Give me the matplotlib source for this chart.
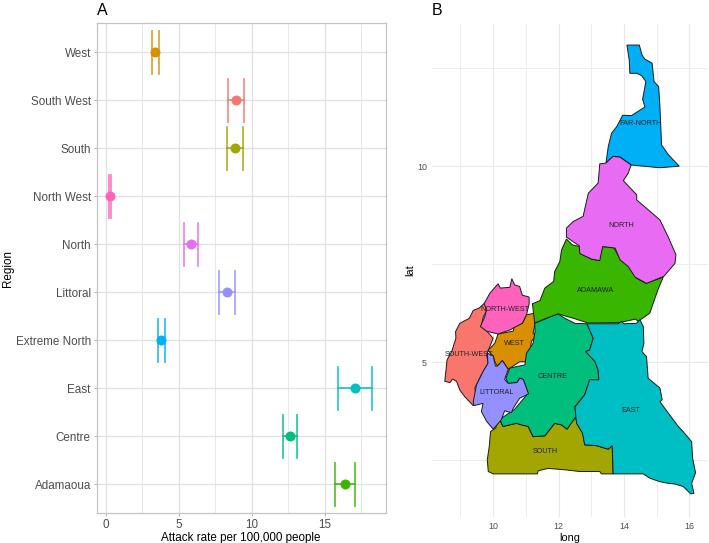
import matplotlib
matplotlib.use("Agg")
import matplotlib.pyplot as plt

plt.rcParams['font.family'] = ['Liberation Sans', 'DejaVu Sans']

# panel A, bottom to top
regions = ["Adamaoua", "Centre", "East", "Extreme North", "Littoral", "North",
           "North West", "South", "South West", "West"]
rate = [16.41, 12.63, 17.12, 3.78, 8.31, 5.81, 0.30, 8.88, 8.95, 3.39]
rate_lo = [15.72, 12.13, 15.93, 3.55, 7.78, 5.35, 0.23, 8.33, 8.40, 3.16]
rate_hi = [17.09, 13.11, 18.28, 4.03, 8.86, 6.32, 0.37, 9.40, 9.50, 3.64]
region_colors = ["#39B600", "#00BF7D", "#00BFC4", "#00B0F6", "#9590FF", "#E76BF3",
                 "#FF62BC", "#A3A500", "#F8766D", "#D89000"]

# panel B, outlines in long/lat
far_north = [(14.09,13.09),(14.47,13.09),(14.55,12.84),(14.64,12.73),(14.86,12.63),(14.92,12.16),
             (15.06,12.03),(15.10,11.52),(15.15,10.54),(15.36,10.29),(15.69,10.00),(15.10,9.96),
             (14.22,10.03),(13.88,10.23),(13.67,10.25),(13.57,10.18),(13.45,10.08),(13.52,10.50),
             (13.62,10.84),(13.78,11.01),(13.96,11.30),(14.23,11.29),(14.64,11.51),(14.57,11.71),
             (14.67,12.16),(14.54,12.31),(14.39,12.37),(14.18,12.37),(14.16,12.71)]
north = [(13.45,10.08),(13.57,10.18),(13.67,10.25),(13.88,10.23),(14.22,10.03),(14.13,9.82),
         (13.98,9.63),(14.39,9.27),(14.39,9.14),(15.10,8.63),(15.35,8.20),(15.59,7.74),(15.56,7.52),
         (15.22,7.19),(14.69,7.01),(14.34,7.17),(14.13,7.44),(13.88,7.61),(13.73,7.91),(13.35,7.95),
         (13.26,7.59),(13.01,7.63),(12.65,7.77),(12.63,7.97),(12.24,8.19),(12.24,8.42),(12.45,8.59),
         (12.75,8.72),(12.91,9.31),(13.21,9.57),(13.26,10.06)]
adamawa = [(12.24,8.14),(12.43,7.99),(12.65,7.95),(12.70,7.76),(13.01,7.63),(13.24,7.59),(13.34,7.95),
           (13.69,7.92),(13.85,7.68),(14.16,7.53),(14.38,7.14),(14.67,7.01),(15.20,7.17),(15.04,6.85),
           (14.79,6.25),(14.43,6.04),(14.36,6.10),(13.87,6.01),(12.90,6.00),(12.45,6.12),(11.99,6.23),
           (11.73,6.15),(11.27,6.00),(11.20,6.49),(11.43,6.57),(11.58,6.89),(11.85,7.06),(11.88,7.31),
           (12.04,7.57),(12.09,7.86)]
north_west = [(9.72,6.49),(9.90,6.76),(10.15,7.00),(10.22,6.89),(10.51,6.91),(10.57,7.13),(10.66,6.97),
              (10.81,6.93),(10.89,6.71),(11.10,6.66),(11.10,6.49),(11.02,6.21),(10.89,5.99),(10.61,5.87),
              (10.51,5.82),(10.15,5.72),(9.80,5.79),(9.61,5.91),(9.74,6.15),(9.80,6.34)]
south_west = [(9.73,6.50),(9.57,6.38),(9.39,6.32),(9.27,6.12),(8.98,5.99),(8.85,5.78),(8.86,5.61),
              (8.73,5.27),(8.59,5.06),(8.52,4.51),(8.68,4.48),(8.76,4.57),(8.88,4.51),(8.98,4.29),
              (9.13,4.12),(9.39,3.89),(9.49,4.08),(9.44,4.34),(9.64,4.68),(9.85,4.97),(9.80,5.19),
              (10.00,5.61),(9.64,5.95),(9.70,6.16),(9.85,6.38)]
west = [(11.28,6.25),(11.28,5.98),(11.22,5.74),(11.30,5.67),(11.17,5.53),(11.12,5.23),(10.97,5.01),
        (10.81,5.01),(10.46,4.82),(10.28,5.04),(10.13,4.90),(10.05,5.01),(10.00,5.16),(9.84,5.30),
        (10.05,5.48),(10.15,5.72),(10.61,5.79),(10.66,5.95),(10.89,5.99),(11.02,6.21)]
littoral = [(9.82,5.23),(10.00,5.16),(10.07,4.90),(10.13,4.90),(10.28,5.04),(10.46,4.82),(10.35,4.56),
            (10.46,4.46),(10.73,4.48),(10.81,4.59),(10.92,4.56),(11.08,4.19),(10.81,4.08),(10.61,3.82),(10.56,3.71),
            (10.35,3.76),(10.25,3.53),(10.00,3.29),(9.80,3.49),(9.64,3.74),(9.69,3.95),(9.41,3.89),
            (9.39,3.99),(9.44,4.21),(9.49,4.42),(9.69,4.76),(9.84,4.97)]
centre = [(11.27,5.99),(11.73,6.15),(11.99,6.23),(12.19,6.12),(12.50,5.99),(12.87,5.98),(13.06,5.61),
          (12.95,5.31),(12.83,5.27),(13.11,5.02),(13.21,4.80),(13.23,4.55),(12.95,4.55),(12.80,4.17),
          (12.50,3.87),(12.55,3.63),(12.26,3.29),(12.09,3.40),(11.88,3.44),(11.58,3.12),(11.22,3.10),
          (11.07,3.36),(10.86,3.40),(10.71,3.44),(10.30,3.36),(10.20,3.54),(10.66,3.80),(11.07,4.21),
          (10.92,4.56),(10.81,4.59),(10.73,4.48),(10.46,4.45),(10.39,4.59),(10.51,4.85),(10.97,4.93),
          (11.02,5.23),(11.22,5.48),(11.28,5.78)]
east = [(12.87,5.98),(13.82,5.98),(13.92,6.04),(14.00,5.98),(14.38,5.99),(14.49,6.08),(14.59,5.91),
        (14.61,5.48),(14.55,5.27),(14.69,5.14),(14.74,4.59),(15.10,4.34),(15.17,4.04),(15.10,3.99),
        (15.66,3.36),(15.81,3.23),(16.07,2.97),(16.10,2.55),(16.19,2.18),(16.07,1.91),(16.14,1.65),
        (16.04,1.64),(15.81,1.83),(15.56,1.89),(15.35,1.91),(15.10,1.95),(14.79,2.04),(14.59,2.15),
        (13.67,2.15),(13.64,2.87),(13.52,2.78),(13.16,2.87),(12.80,2.89),(12.73,3.19),(12.55,3.44),
        (12.50,3.85),(12.80,4.17),(12.95,4.55),(13.23,4.55),(13.21,4.80),(13.11,5.02),(12.83,5.27),
        (12.95,5.31),(13.06,5.61)]
south = [(9.92,3.23),(10.08,3.32),(10.12,3.54),(10.20,3.54),(10.30,3.36),(10.71,3.44),(11.07,3.36),
         (11.22,3.10),(11.58,3.12),(11.88,3.44),(12.09,3.40),(12.26,3.29),(12.50,3.65),(12.57,3.44),
         (12.75,3.19),(12.80,2.89),(13.16,2.87),(13.52,2.78),(13.64,2.87),(13.67,2.15),(13.31,2.15),
         (13.26,2.21),(12.65,2.21),(12.24,2.25),(11.68,2.29),(11.38,2.23),(11.35,2.15),(10.00,2.15),
         (9.85,2.21),(9.82,2.51),(9.88,2.85)]

map_shapes = [south_west, west, south, adamawa, centre, east, far_north, littoral, north, north_west]
map_colors = ["#F8766D", "#D89000", "#A3A500", "#39B600", "#00BF7D", "#00BFC4", "#00B0F6",
              "#9590FF", "#E76BF3", "#FF62BC"]
map_names = ["SOUTH-WEST", "WEST", "SOUTH", "ADAMAWA", "CENTRE", "EAST", "FAR-NORTH",
             "LITTORAL", "NORTH", "NORTH-WEST"]
name_long = [9.27, 10.64, 11.58, 13.13, 11.82, 14.22, 14.51, 10.10, 13.93, 10.37]
name_lat = [5.20, 5.48, 2.73, 6.84, 4.64, 3.77, 11.08, 4.23, 8.48, 6.35]

W, H = 709, 543
fig = plt.figure(figsize=(W / 100, H / 100), dpi=100)

# panel A
ax = fig.add_axes([96.7 / W, 1 - 513.3 / H, 289 / W, 490 / H])
ypos = list(range(1, len(regions) + 1))
ax.set_axisbelow(True)
ax.grid(True, which="major", color="#E0E0E0", lw=0.9)
ax.grid(True, which="minor", axis="x", color="#E8E8E8", lw=0.7)
for i in range(len(regions)):
    c = region_colors[i]
    ax.plot([rate_lo[i], rate_hi[i]], [ypos[i], ypos[i]], color=c, lw=1.1)
    ax.plot([rate_lo[i], rate_lo[i]], [ypos[i] - 0.45, ypos[i] + 0.45], color=c, lw=1.3, alpha=0.8)
    ax.plot([rate_hi[i], rate_hi[i]], [ypos[i] - 0.45, ypos[i] + 0.45], color=c, lw=1.3, alpha=0.8)
    ax.plot(rate[i], ypos[i], "o", color=c, ms=7.2, mew=0)
ax.set_xlim(-0.64, 19.2)
ax.set_ylim(0.4, 10.6)
ax.set_xticks([0, 5, 10, 15])
ax.set_xticks([2.5, 7.5, 12.5, 17.5], minor=True)
ax.set_yticks(ypos)
ax.set_yticklabels(regions)
ax.tick_params(axis="both", which="major", labelsize=8.4, labelcolor="#4D4D4D",
               color="#B3B3B3", length=2.2, width=0.7, pad=2)
ax.tick_params(axis="x", which="minor", length=0)
for s in ax.spines.values():
    s.set_color("#C4C4C4")
    s.set_linewidth(0.9)
ax.set_xlabel("Attack rate per 100,000 people", fontsize=8.4, labelpad=0.5)
ax.set_ylabel("Region", fontsize=8.4)
ax.yaxis.set_label_coords(-0.287, 0.5)
ax.set_title("A", loc="left", fontsize=11.5, pad=6)

# panel B
ax2 = fig.add_axes([431.7 / W, 1 - 517 / H, 276.3 / W, 493.5 / H])
ax2.set_axisbelow(True)
ax2.grid(True, which="major", color="#E8E8E8", lw=0.8)
ax2.grid(True, which="minor", color="#EDEDED", lw=0.7)
for shape, col in zip(map_shapes, map_colors):
    ax2.fill([p[0] for p in shape], [p[1] for p in shape], facecolor=col, edgecolor="#1A1A1A", lw=0.7)
for name, x, y in zip(map_names, name_long, name_lat):
    ax2.text(x, y, name, fontsize=5.2, color="#222222", ha="center", va="center")
ax2.set_xlim(8.12, 16.57)
ax2.set_ylim(1.05, 13.64)
ax2.set_xticks([10, 12, 14, 16])
ax2.set_xticks([9, 11, 13, 15], minor=True)
ax2.set_yticks([5, 10])
ax2.set_yticks([2.5, 7.5, 12.5], minor=True)
ax2.tick_params(axis="both", which="both", length=0)
ax2.tick_params(axis="both", which="major", labelsize=6.4, labelcolor="#4D4D4D", pad=3.5)
for s in ax2.spines.values():
    s.set_visible(False)
ax2.set_xlabel("long", fontsize=7.8, labelpad=1.5)
ax2.set_ylabel("lat", fontsize=7.8, labelpad=1.5)
ax2.set_title("B", loc="left", fontsize=11.5, pad=6)

fig.savefig("out.png", dpi=100)
